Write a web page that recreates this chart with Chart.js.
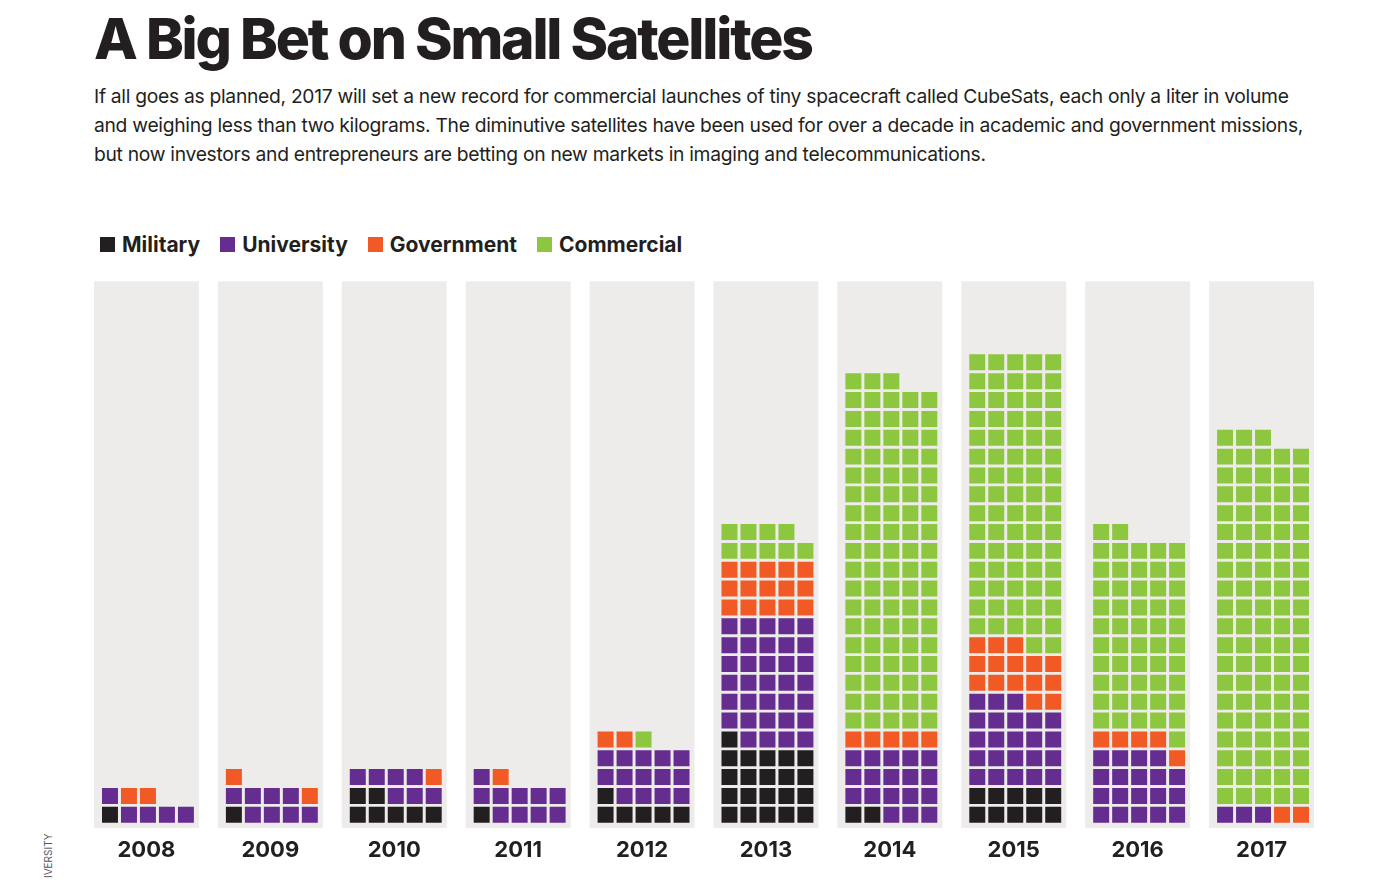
<!DOCTYPE html>
<html>
<head>
<meta charset="utf-8">
<script src="https://cdn.jsdelivr.net/npm/chart.js@4"></script>
<style>
  body { margin: 0; width: 1380px; height: 880px; background: #fff; font-family: Inter, "Noto Sans", sans-serif; color: #231f20; position: relative; overflow: hidden; }
  h1 { position: absolute; left: 94px; top: 4px; margin: 0; font-size: 57px; font-weight: 800; letter-spacing: -2.2px; }
  .intro { position: absolute; left: 94px; top: 82px; width: 1215px; font-size: 19.3px; line-height: 29px; letter-spacing: -0.3px; margin: 0; }
  .legend { position: absolute; left: 100px; top: 232px; font-size: 21px; font-weight: 700; display: flex; gap: 20px; }
  .legend span.sw { display: inline-block; width: 15px; height: 15px; margin-right: 7px; }
  .credit { position: absolute; left: 42px; top: 878px; font-size: 10px; transform: rotate(-90deg); transform-origin: left top; color: #555; }
  #wrap { position: absolute; left: 0; top: 270px; width: 1380px; height: 610px; }
</style>
</head>
<body>
<h1>A Big Bet on Small Satellites</h1>
<p class="intro">If all goes as planned, 2017 will set a new record for commercial launches of tiny spacecraft called CubeSats, each only a liter in volume and weighing less than two kilograms. The diminutive satellites have been used for over a decade in academic and government missions, but now investors and entrepreneurs are betting on new markets in imaging and telecommunications.</p>
<div class="legend">
  <div><span class="sw" style="background:#231f20"></span>Military</div>
  <div><span class="sw" style="background:#652d90"></span>University</div>
  <div><span class="sw" style="background:#f15a24"></span>Government</div>
  <div><span class="sw" style="background:#8dc63f"></span>Commercial</div>
</div>
<div class="credit">IVERSITY</div>
<div id="wrap"><canvas id="c"></canvas></div>
<script>
const years = ["2008", "2009", "2010", "2011", "2012", "2013", "2014", "2015", "2016", "2017"];
const military = [1, 1, 7, 1, 6, 21, 2, 10, 0, 0];
const university = [5, 8, 7, 10, 14, 34, 18, 23, 19, 3];
const government = [2, 2, 1, 1, 2, 15, 5, 15, 5, 2];
const commercial = [0, 0, 0, 0, 1, 9, 93, 77, 53, 98];

const categories = [
  { label: "Military", values: military, color: "#231f20" },
  { label: "University", values: university, color: "#652d90" },
  { label: "Government", values: government, color: "#f15a24" },
  { label: "Commercial", values: commercial, color: "#8dc63f" },
];

const COLS = 5;
const GROUP = 6.526; // x units between year columns

// stack squares row by row, left to right, one dataset per category
const datasets = categories.map((cat) => ({ label: cat.label, data: [], backgroundColor: cat.color, borderWidth: 0, pointStyle: "rect", pointRadius: 11.3, pointHoverRadius: 11.3 }));
years.forEach((y, i) => {
  let k = 0;
  categories.forEach((cat, ci) => {
    for (let n = 0; n < cat.values[i]; n++, k++) {
      datasets[ci].data.push({ x: i * GROUP + (k % COLS), y: Math.floor(k / COLS) });
    }
  });
});

const panels = {
  id: "panels",
  beforeDatasetsDraw(chart) {
    const { ctx, scales: { x, y } } = chart;
    ctx.save();
    ctx.fillStyle = "#edecea";
    years.forEach((yr, i) => {
      const l = x.getPixelForValue(i * GROUP - 0.842);
      const r = x.getPixelForValue(i * GROUP + 4.684);
      ctx.fillRect(l, y.top, r - l, y.bottom - y.top);
    });
    ctx.fillStyle = "#231f20";
    ctx.font = "700 22px Inter, 'Noto Sans', sans-serif";
    ctx.textAlign = "center";
    ctx.textBaseline = "middle";
    years.forEach((yr, i) => {
      ctx.fillText(yr, x.getPixelForValue(i * GROUP + 1.92), y.bottom + 22);
    });
    ctx.restore();
  },
};

new Chart(document.getElementById("c"), {
  type: "scatter",
  data: { datasets },
  options: {
    responsive: true,
    maintainAspectRatio: false,
    animation: false,
    layout: { padding: { left: 94, right: 66, top: 11, bottom: 52 } },
    plugins: { legend: { display: false }, tooltip: { enabled: false } },
    scales: {
      x: { type: "linear", min: -0.842, max: 9 * GROUP + 4.684, display: false },
      y: { type: "linear", min: -0.7, max: 28.3, display: false },
    },
  },
  plugins: [panels],
});
</script>
</body>
</html>
